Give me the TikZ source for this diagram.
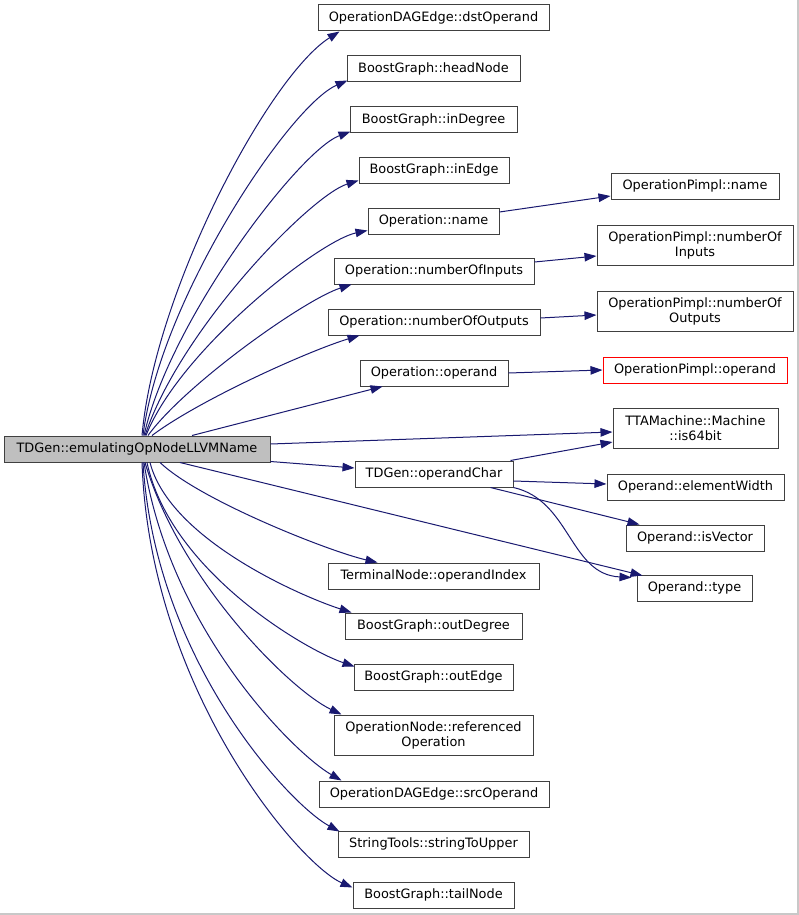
\documentclass[tikz,border=0pt]{standalone}
\usepackage{fontspec}
\setmainfont{DejaVu Sans}
\usetikzlibrary{arrows.meta}
\definecolor{edgeblue}{HTML}{191970}
\definecolor{maingray}{HTML}{BFBFBF}
\definecolor{frameline}{HTML}{404040}
\definecolor{outline}{HTML}{C8C8C8}
\begin{document}
\begin{tikzpicture}[x=1pt,y=-1pt,
  box/.style={draw=frameline, line width=1pt, fill=white, inner sep=0pt, minimum height=26pt, align=center, font=\fontsize{12.9}{15}\selectfont, text=black},
  tall/.style={minimum height=40pt},
  redbox/.style={draw=red},
  edge/.style={draw=edgeblue, line width=1pt, -{Triangle[length=12pt,width=8.5pt]}},
]
\useasboundingbox (0,0) rectangle (799,915);
\fill[white] (0,0) rectangle (799,915);
\draw[line width=1.5pt, outline] (0,914) -- (798,914) -- (798,0);

% main
\node[box, fill=maingray, minimum width=266pt] (main) at (137,449) {TDGen::emulatingOpNodeLLVMName};

% column 1
\node[box, minimum width=231pt] (dst) at (433.5,18) {OperationDAGEdge::dstOperand};
\node[box, minimum width=173pt] (head) at (433.5,69) {BoostGraph::headNode};
\node[box, minimum width=167pt] (indeg) at (433.5,120) {BoostGraph::inDegree};
\node[box, minimum width=150pt] (inedge) at (434,170) {BoostGraph::inEdge};
\node[box, minimum width=131pt] (opname) at (433.5,221) {Operation::name};
\node[box, minimum width=200pt] (inputs) at (434,271) {Operation::numberOfInputs};
\node[box, minimum width=212pt] (outputs) at (434,322) {Operation::numberOfOutputs};
\node[box, minimum width=148pt] (operand) at (434,373) {Operation::operand};
\node[box, minimum width=158pt] (opchar) at (434,474) {TDGen::operandChar};
\node[box, minimum width=211pt] (termidx) at (433.5,576) {TerminalNode::operandIndex};
\node[box, minimum width=177pt] (outdeg) at (433.5,626) {BoostGraph::outDegree};
\node[box, minimum width=159pt] (outedge) at (433.5,677) {BoostGraph::outEdge};
\node[box, tall, minimum width=199pt] (refop) at (433.5,735) {OperationNode::referenced\\Operation};
\node[box, minimum width=230pt] (srcop) at (434,794) {OperationDAGEdge::srcOperand};
\node[box, minimum width=191pt] (strup) at (433.5,844) {StringTools::stringToUpper};
\node[box, minimum width=161pt] (tail) at (433.5,895) {BoostGraph::tailNode};

% column 2
\node[box, minimum width=168pt] (pname) at (695,186) {OperationPimpl::name};
\node[box, tall, minimum width=196pt] (pin) at (695,245) {OperationPimpl::numberOf\\Inputs};
\node[box, tall, minimum width=196pt] (pout) at (695,311) {OperationPimpl::numberOf\\Outputs};
\node[box, redbox, minimum width=184pt] (poperand) at (695,370) {OperationPimpl::operand};
\node[box, tall, minimum width=165pt] (is64) at (695.5,428) {TTAMachine::Machine\\::is64bit};
\node[box, minimum width=177pt] (elemw) at (695.5,487) {Operand::elementWidth};
\node[box, minimum width=138pt] (isvec) at (695,538) {Operand::isVector};
\node[box, minimum width=115pt] (type) at (694.5,588) {Operand::type};

% edges upward from main
\draw[edge] ([xshift=5pt]main.north) .. controls +(13,-146) and +(-70,44) .. ([xshift=22pt]dst.south west);
\draw[edge] ([xshift=6pt]main.north) .. controls +(17,-136) and +(-58,25) .. ([shift={(1pt,2pt)}]head.south west);
\draw[edge] ([xshift=7pt]main.north) .. controls +(26,-116) and +(-51,19) .. ([shift={(1pt,2pt)}]indeg.south west);
\draw[edge] ([xshift=8pt]main.north) .. controls +(35,-106) and +(-48,15) .. ([shift={(0pt,3pt)}]inedge.south west);
\draw[edge] ([xshift=9pt]main.north) .. controls +(34,-86) and +(-48,10) .. ([shift={(0pt,4pt)}]opname.south west);
\draw[edge] ([xshift=11pt]main.north) .. controls +(37,-51) and +(-47,15) .. ([xshift=18pt]inputs.south west);
\draw[edge] ([xshift=15pt]main.north) .. controls +(48,-36) and +(-50,15) .. ([xshift=32pt]outputs.south west);
\draw[edge] ([xshift=55pt]main.north) -- ([xshift=23pt]operand.south west);

% edges rightward from main
\draw[edge] ([yshift=5pt]main.east) -- ([yshift=-4pt]is64.west);
\draw[edge] ([yshift=1pt]main.south east) -- ([yshift=6pt]opchar.west);
\draw[edge] ([xshift=43pt]main.south) -- ([shift={(6pt,-1pt)}]type.north west);

% edges downward from main
\draw[edge] ([xshift=23pt]main.south) .. controls +(40,38) and +(-48,-11) .. ([xshift=50pt]termidx.north west);
\draw[edge] ([xshift=13pt]main.south) .. controls +(20,78) and +(-47,-15) .. ([xshift=7pt]outdeg.north west);
\draw[edge] ([xshift=10pt]main.south) .. controls +(23,108) and +(-50,-17) .. ([shift={(1pt,-3pt)}]outedge.north west);
\draw[edge] ([xshift=8pt]main.south) .. controls +(35,118) and +(-52,-25) .. ([xshift=8pt]refop.north west);
\draw[edge] ([xshift=7pt]main.south) .. controls +(26,168) and +(-47,-27) .. ([xshift=23pt]srcop.north west);
\draw[edge] ([xshift=6pt]main.south) .. controls +(12,198) and +(-50,-27) .. ([shift={(2pt,-1pt)}]strup.north west);
\draw[edge] ([xshift=5pt]main.south) .. controls +(8,228) and +(-53,-23) .. ([yshift=-6pt]tail.north west);

% second level
\draw[edge] ([yshift=9pt]opname.east) -- ([yshift=-10pt]pname.west);
\draw[edge] ([yshift=9pt]inputs.east) -- ([yshift=-11pt]pin.west);
\draw[edge] ([yshift=4pt]outputs.east) -- ([yshift=-4pt]pout.west);
\draw[edge] (operand.east) -- (poperand.west);
\draw[edge] ([xshift=-3pt]opchar.north east) -- ([yshift=-14pt]is64.west);
\draw[edge] ([yshift=-7pt]opchar.east) -- ([yshift=3pt]elemw.west);
\draw[edge] ([xshift=-23pt]opchar.south east) -- ([xshift=14pt]isvec.north west);
\draw[edge] (opchar.south east) .. controls +(57,13) and +(-62,-3) .. ([shift={(-5pt,-3pt)}]type.north west);
\end{tikzpicture}
\end{document}
